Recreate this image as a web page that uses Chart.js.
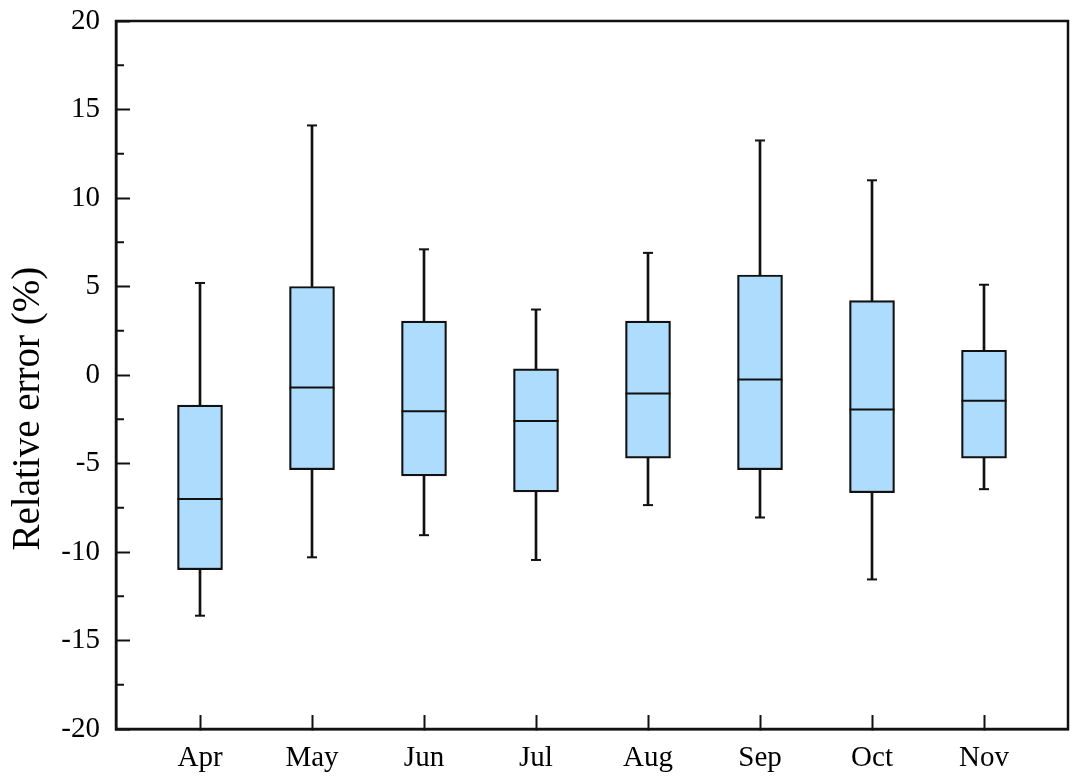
<!DOCTYPE html>
<html>
<head>
<meta charset="utf-8">
<script src="https://cdn.jsdelivr.net/npm/chart.js@4.4.0/dist/chart.umd.min.js"></script>
<style>
  html, body { margin: 0; padding: 0; background: #fff; }
  #wrap { width: 1080px; height: 778px; }
</style>
</head>
<body>
<div id="wrap"><canvas id="c" width="1080" height="778"></canvas></div>
<script>
// dati (errore relativo %)
var mesi = ["Apr", "May", "Jun", "Jul", "Aug", "Sep", "Oct", "Nov"];
var minimi  = [-13.6, -10.3, -9.05, -10.45, -7.35, -8.05, -11.55, -6.45];
var q1      = [-11.0, -5.35, -5.7, -6.6, -4.7, -5.35, -6.65, -4.7];
var mediane = [-7.0, -0.7, -2.05, -2.6, -1.05, -0.25, -1.95, -1.45];
var q3      = [-1.7, 5.0, 3.05, 0.35, 3.05, 5.65, 4.2, 1.4];
var massimi = [5.2, 14.1, 7.1, 3.7, 6.9, 13.25, 11.0, 5.1];
var yTicks  = [-20, -15, -10, -5, 0, 5, 10, 15, 20];
var titoloY = "Relative error (%)";

var nero = "#111111";
var azzurro = "#addcfc";
var font = "'Liberation Serif', 'Times New Roman', serif";

function punti(valori){
    let out = [];
    for(let i=0; i<valori.length; i++) out.push({x: i+1, y: valori[i]});
    return out;
}
function intervalli(a, b){
    let out = [];
    for(let i=0; i<a.length; i++) out.push({x: i+1, y: [a[i], b[i]]});
    return out;
}

// cornice, tacche minori e titolo asse y
var cornice = {
    id: "cornice",
    afterDraw(chart){
        let ctx = chart.ctx, a = chart.chartArea, ys = chart.scales.y;
        ctx.save();
        ctx.strokeStyle = nero;
        ctx.lineWidth = 2.5;
        ctx.strokeRect(a.left, a.top, a.right - a.left, a.bottom - a.top);
        ctx.lineWidth = 2;
        for(let v = -17.5; v < 20; v += 5){
            let py = ys.getPixelForValue(v);
            ctx.beginPath();
            ctx.moveTo(a.left, py);
            ctx.lineTo(a.left + 8, py);
            ctx.stroke();
        }
        //titolo spostato un po' in basso come nell'originale
        ctx.translate(29, ys.getPixelForValue(-1.9));
        ctx.rotate(-Math.PI / 2);
        ctx.fillStyle = "#000";
        ctx.font = "39px " + font;
        ctx.textAlign = "center";
        ctx.textBaseline = "middle";
        ctx.fillText(titoloY, 0, 0);
        ctx.restore();
    }
};

var grafico = new Chart(document.getElementById("c"), {
    type: "bar",
    data: {
        datasets: [
            { type: "scatter", data: punti(mediane), pointStyle: "line", pointRadius: 22.5,
              pointBorderWidth: 2, pointBorderColor: nero, pointHoverRadius: 22.5 },
            { type: "scatter", data: punti(massimi), pointStyle: "line", pointRadius: 5,
              pointBorderWidth: 2, pointBorderColor: nero, pointHoverRadius: 5 },
            { type: "scatter", data: punti(minimi), pointStyle: "line", pointRadius: 5,
              pointBorderWidth: 2, pointBorderColor: nero, pointHoverRadius: 5 },
            { data: intervalli(q1, q3), backgroundColor: azzurro, borderColor: nero,
              borderWidth: 2.2, borderSkipped: false, barThickness: 45, grouped: false },
            { data: intervalli(q3, massimi), backgroundColor: nero, borderWidth: 0,
              barThickness: 2, grouped: false },
            { data: intervalli(minimi, q1), backgroundColor: nero, borderWidth: 0,
              barThickness: 2, grouped: false }
        ]
    },
    options: {
        responsive: false,
        animation: false,
        layout: { autoPadding: false, padding: { top: 21, right: 12, left: 0, bottom: 0 } },
        plugins: { legend: { display: false }, tooltip: { enabled: false } },
        scales: {
            x: {
                type: "linear",
                offset: false,
                min: 0.25,
                max: 8.75,
                afterBuildTicks: function(s){ s.ticks = mesi.map((m, i) => ({ value: i + 1 })); },
                afterFit: function(s){ s.height = 49; s.paddingLeft = 0; s.paddingRight = 0; },
                ticks: {
                    color: "#000",
                    font: { family: font, size: 29 },
                    padding: 26,
                    callback: function(v){ return mesi[v - 1]; }
                },
                grid: { drawOnChartArea: false, offset: false, tickLength: -14, tickWidth: 2, tickColor: nero },
                border: { display: true, color: nero, width: 2.5 }
            },
            y: {
                min: -20,
                max: 20,
                afterBuildTicks: function(s){ s.ticks = yTicks.map(v => ({ value: v })); },
                afterFit: function(s){ s.width = 116; s.paddingTop = 0; s.paddingBottom = 0; },
                ticks: {
                    color: "#000",
                    font: { family: font, size: 29 },
                    padding: 30
                },
                grid: { drawOnChartArea: false, tickLength: -14, tickWidth: 2, tickColor: nero },
                border: { display: true, color: nero, width: 2.5 }
            }
        }
    },
    plugins: [cornice]
});
</script>
</body>
</html>
